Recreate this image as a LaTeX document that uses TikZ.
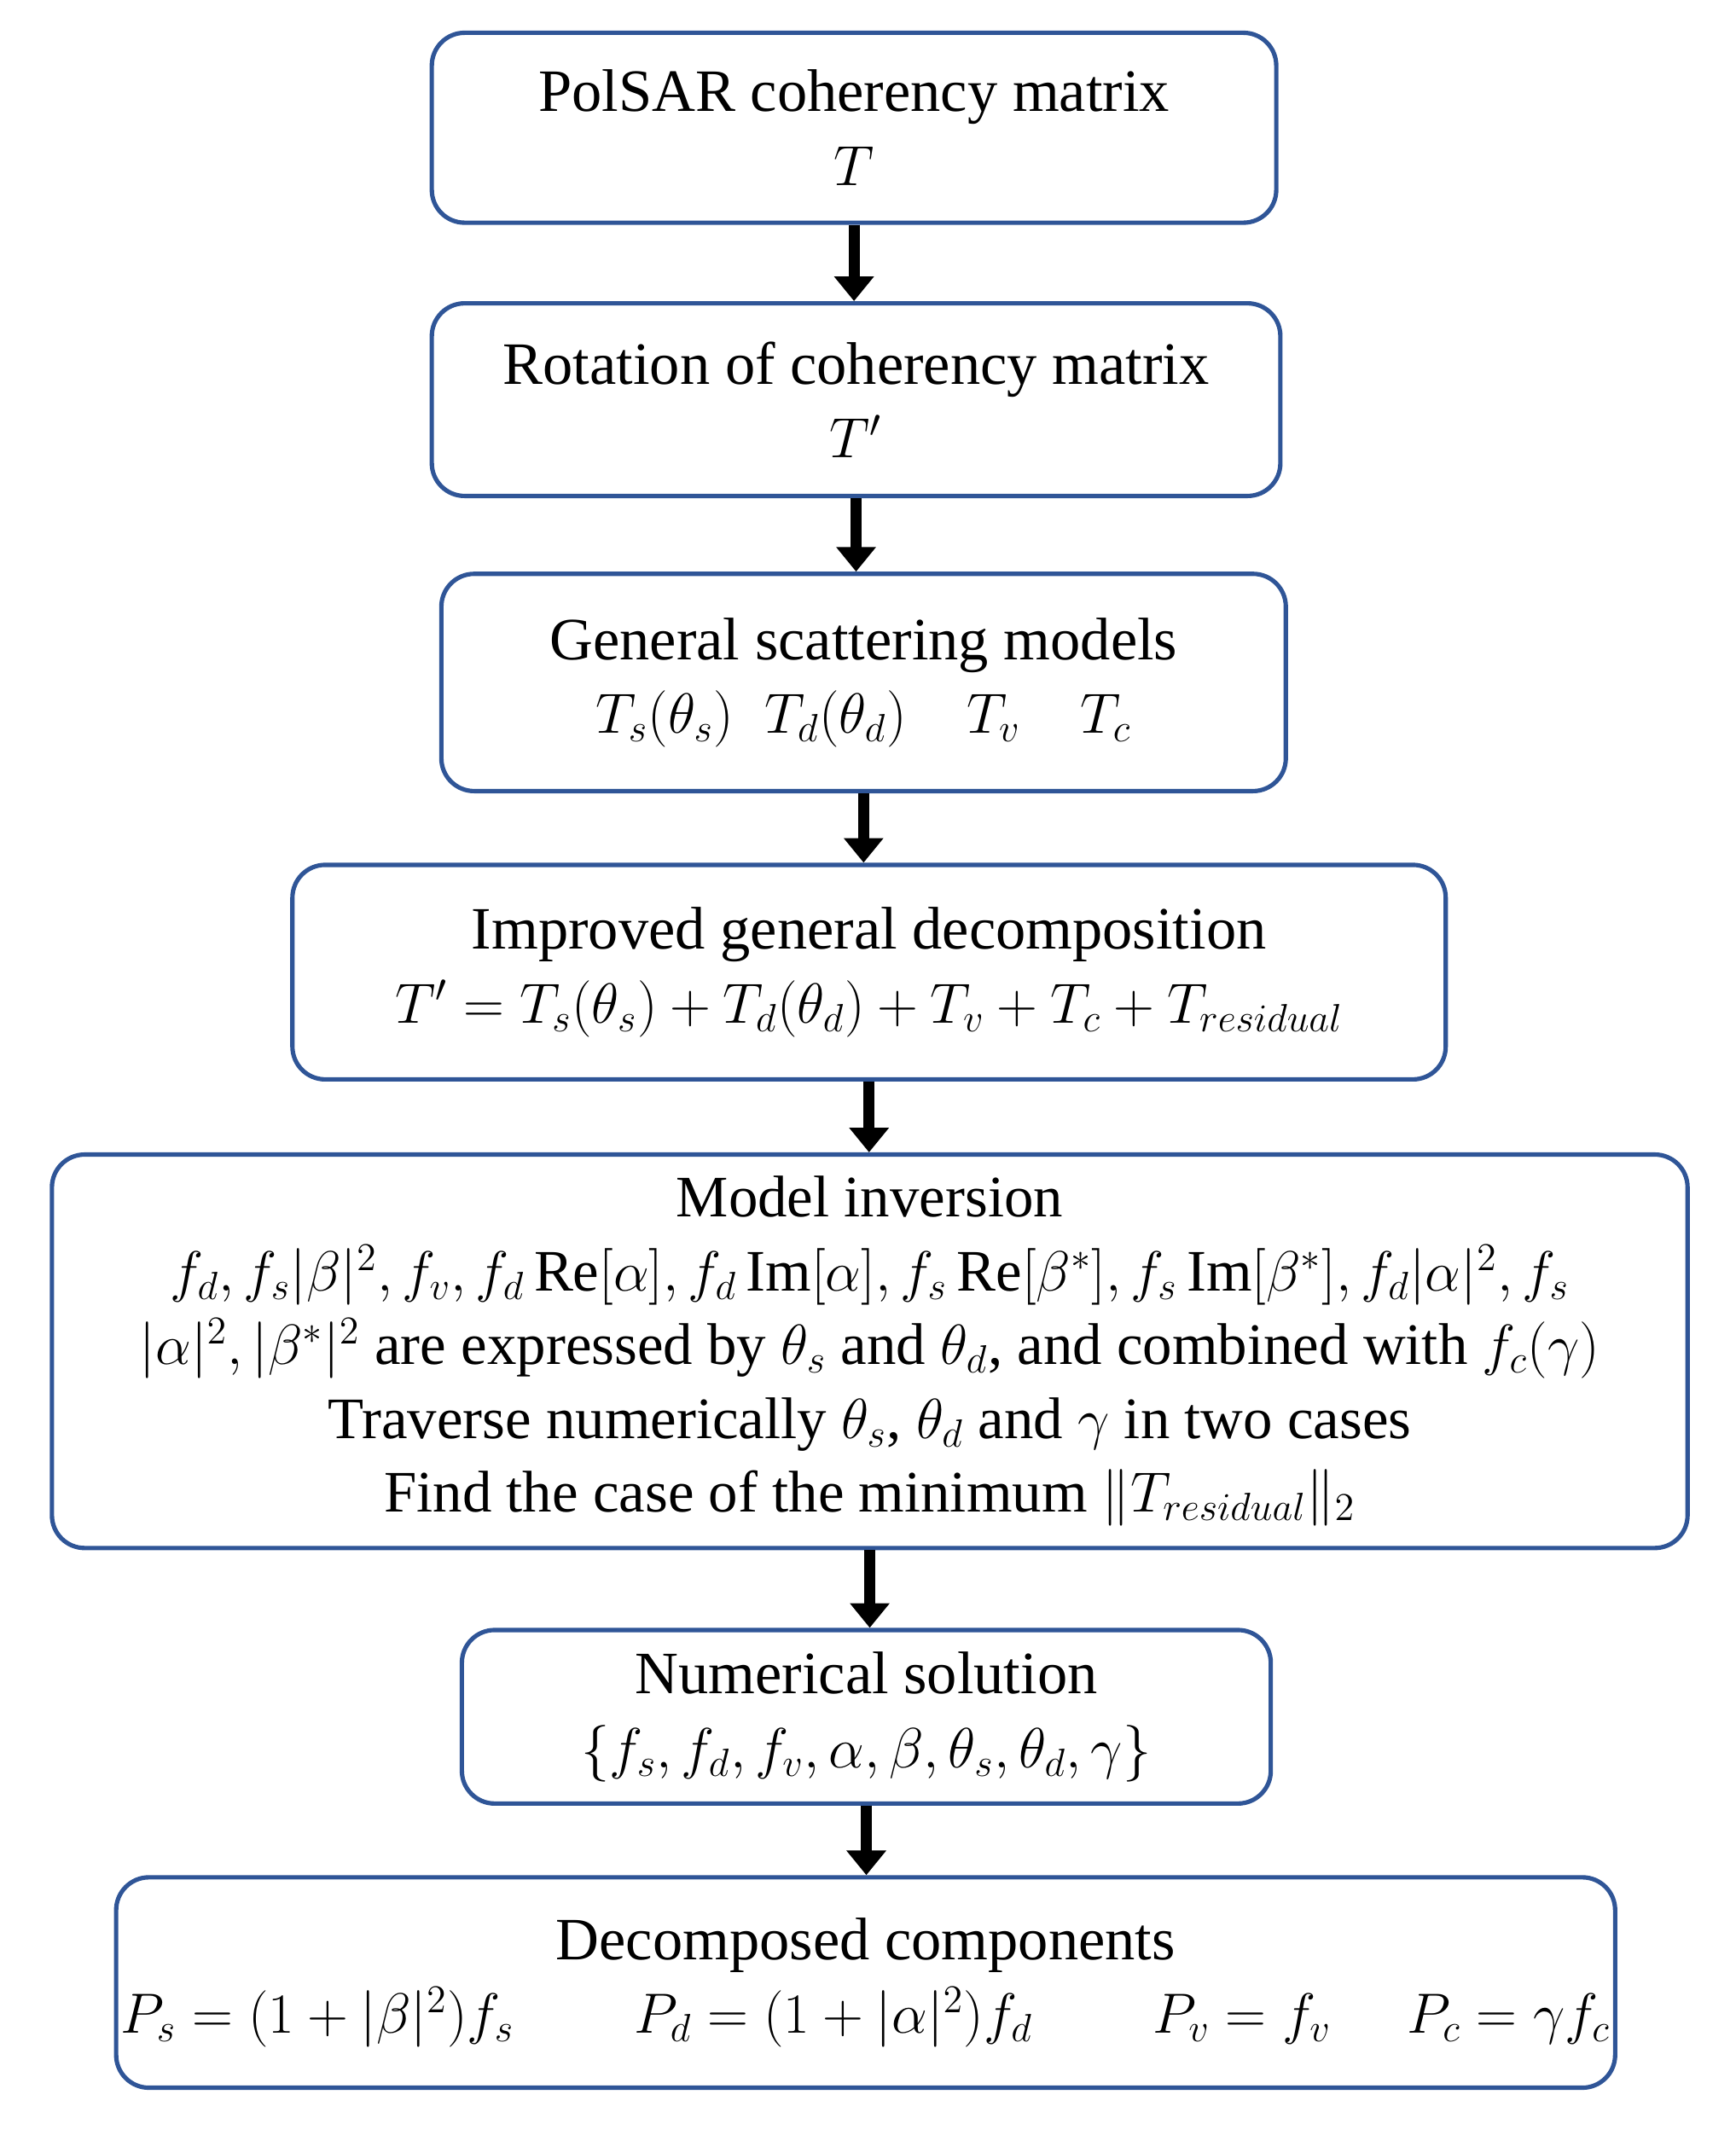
\documentclass[tikz,border=0pt]{standalone}
\usepackage{fontspec}
\setmainfont{Liberation Serif}
\usetikzlibrary{arrows.meta}
\definecolor{bord}{RGB}{47,85,151}
\begin{document}
\begin{tikzpicture}[x=0.5pt,y=-0.5pt,
 box/.style={draw=bord,line width=1.6pt,rounded corners=12pt,align=center,font=\fontsize{22}{27}\selectfont,inner sep=0pt},
 arr/.style={line width=4pt,-{Triangle[length=9pt,width=14pt]}}]
\useasboundingbox (0,0) rectangle (1270,1567);
\node[box,minimum width=309pt,minimum height=69.5pt] (b1) at (625,93.5) {PolSAR coherency matrix\\$T$};
\node[box,minimum width=310.5pt,minimum height=70.5pt] (b2) at (626.5,292.5) {Rotation of coherency matrix\\$T'$};
\node[box,minimum width=309pt,minimum height=79.5pt] (b3) at (632,499.5) {General scattering models\\$T_s(\theta_s)\;\;T_d(\theta_d)\quad T_v\quad T_c$};
\node[box,minimum width=422pt,minimum height=78.5pt] (b4) at (636,711.5) {Improved general decomposition\\$T'=T_s(\theta_s)+T_d(\theta_d)+T_v+T_c+T_{residual}$};
\node[box,minimum width=598.5pt,minimum height=144pt,font=\fontsize{21.5}{27}\selectfont] (b5) at (636.5,989) {Model inversion\\
$f_d, f_s|\beta|^2, f_v, f_d\,\mathrm{Re}[\alpha], f_d\,\mathrm{Im}[\alpha], f_s\,\mathrm{Re}[\beta^*], f_s\,\mathrm{Im}[\beta^*], f_d|\alpha|^2, f_s$\\
$|\alpha|^2, |\beta^*|^2$ are expressed by $\theta_s$ and $\theta_d$, and combined with $f_c(\gamma)$\\
Traverse numerically $\theta_s$, $\theta_d$ and $\gamma$ in two cases\\
Find the case of the minimum $\|T_{residual}\|_2$};
\node[box,minimum width=296pt,minimum height=63.5pt] (b6) at (634,1256.5) {Numerical solution\\$\{f_s,f_d,f_v,\alpha,\beta,\theta_s,\theta_d,\gamma\}$};
\node[box,minimum width=548.5pt,minimum height=77pt] (b7) at (633.5,1451) {Decomposed components\\$P_s=\bigl(1+|\beta|^2\bigr)f_s\qquad P_d=\bigl(1+|\alpha|^2\bigr)f_d\qquad P_v=f_v\quad\; P_c=\gamma f_c$};
\foreach \a/\b in {b1/b2,b2/b3,b3/b4,b4/b5,b5/b6,b6/b7}
 \draw[arr] (\a.south) -- (\a.south |- \b.north);
\end{tikzpicture}
\end{document}
